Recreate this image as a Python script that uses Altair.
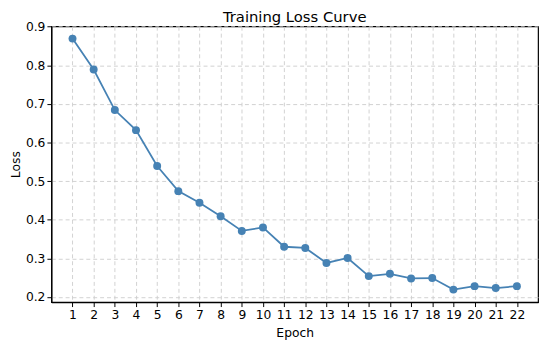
import altair as alt
import pandas as pd

epochs = list(range(1, 23))
loss = [0.869, 0.789, 0.684, 0.632, 0.539, 0.474, 0.444, 0.409, 0.371, 0.380,
        0.330, 0.327, 0.288, 0.301, 0.254, 0.260, 0.248, 0.249, 0.219, 0.228,
        0.223, 0.228]
y_ticks = [0.2, 0.3, 0.4, 0.5, 0.6, 0.7, 0.8, 0.9]

df = pd.DataFrame({"Epoch": epochs, "Loss": loss})

color = "#4682b4"
font = "DejaVu Sans"

x = alt.X("Epoch:Q", scale=alt.Scale(domain=[0, 23], nice=False, zero=False),
          axis=alt.Axis(values=epochs, title="Epoch", format="d"))
y = alt.Y("Loss:Q", scale=alt.Scale(domain=[0.1866, 0.901], nice=False, zero=False),
          axis=alt.Axis(values=y_ticks, title="Loss", format=".1f"))

base = alt.Chart(df).encode(x=x, y=y)
line = base.mark_line(color=color, strokeWidth=1.8)
pts = base.mark_circle(color=color, size=65, opacity=1)

chart = (line + pts).properties(
    width=494, height=280,
    autosize=alt.AutoSizeParams(type="none"),
    padding={"left": 44, "top": 16, "right": 4, "bottom": 43},
    title=alt.TitleParams("Training Loss Curve", font=font, fontSize=15,
                          fontWeight="normal", color="black", offset=-4),
).configure_view(stroke="black", strokeWidth=1.2).configure_axis(
    labelFont=font, labelFontSize=12.5, labelColor="black",
    titleFont=font, titleFontSize=12.5, titleFontWeight="normal", titleColor="black",
    domainColor="black", domainWidth=1.2, tickColor="black", tickSize=4.5, tickWidth=1,
    gridColor="#cccccc", gridDash=[4, 3], gridWidth=0.9, labelPadding=2,
).configure_axisY(titlePadding=3).configure_axisX(titlePadding=6)

chart.save("out.html", embed_options={"renderer": "svg", "actions": False})
